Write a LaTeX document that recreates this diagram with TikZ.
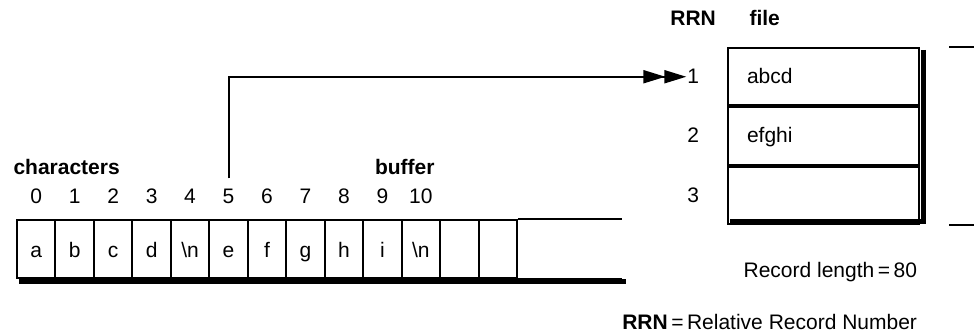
\documentclass[tikz,border=0pt]{standalone}
\usepackage{fontspec}
\setmainfont{Liberation Sans}
\usetikzlibrary{positioning,arrows.meta}
\begin{document}
\begin{tikzpicture}[x=1pt, y=-1pt, font=\fontsize{21}{25}\selectfont, line width=2pt,
		tip/.tip={Triangle[length=22pt,width=13pt]},
		cell/.style={draw, minimum width=38.46pt, minimum height=58pt, inner sep=0pt, text height=18pt, text depth=0pt, anchor=north west},
		rec/.style={draw, minimum width=191pt, minimum height=57.5pt, inner xsep=19pt, inner ysep=0pt, text width=153pt, align=left, text height=13pt, text depth=0pt, anchor=north west},
		num/.style={inner sep=0pt, text height=13pt, text depth=0pt},
		idx/.style={inner sep=0pt},
		shadow/.style={line width=5pt}]
	\useasboundingbox (0,0) rectangle (974,336);
	% buffer
	\foreach \c [count=\i from 0] in {a,b,c,d,\textbackslash n,e,f,g,h,i,\textbackslash n,{},{}}
		\node[cell] (c\i) at (16+38.46*\i,219) {\c};
	\foreach \i in {0,...,10}
		\node[idx, above=14pt of c\i] (n\i) {\i};
	\coordinate (bufend) at (622,219);
	\draw (c12.north east) -- (bufend);
	\draw (c12.south east) -- (bufend |- c12.south);
	\draw[shadow] ([xshift=3pt,yshift=-3pt]c0.south west) -- ([xshift=4pt,yshift=-3pt]bufend |- c12.south);
	\node[anchor=base west, inner sep=0pt] (chr) at (12.5,175) {\textbf{characters}};
	\node[anchor=base west, inner sep=0pt] (buf) at (374,175) {\textbf{buffer}};
	% file
	\node[rec] (r1) at (727,47) {abcd};
	\node[rec, below=0pt of r1] (r2) {efghi};
	\node[rec, below=0pt of r2] (r3) {};
	\draw[shadow] ([xshift=3.5pt,yshift=-3pt]r1.north east) -- ([xshift=3.5pt,yshift=3.5pt]r3.south east) -- ([xshift=3pt,yshift=3.5pt]r3.south west);
	\foreach \i in {1,2,3}
		\node[num, left=27pt of r\i] (m\i) {\i};
	\node[anchor=base, inner sep=0pt] (rrn) at (m1 |- 0,26) {\textbf{RRN}};
	\node[anchor=base west, inner sep=0pt] (fil) at (748.5,26) {\textbf{file}};
	\draw ([xshift=29pt]r1.north east) -- ++(27,0);
	\draw ([xshift=29pt]r3.south east) -- ++(27,0);
	\node[anchor=base east, inner sep=0pt] (len) at (918,277.5) {Record length\,=\,80};
	\node[anchor=base east, inner sep=0pt] (key) at (918,330) {\textbf{RRN}\,=\,Relative Record Number};
	% pointer
	\draw[-{tip[sep=-1pt]tip}, shorten <=10pt] (n5.north) |- (m1.west);
\end{tikzpicture}
\end{document}
